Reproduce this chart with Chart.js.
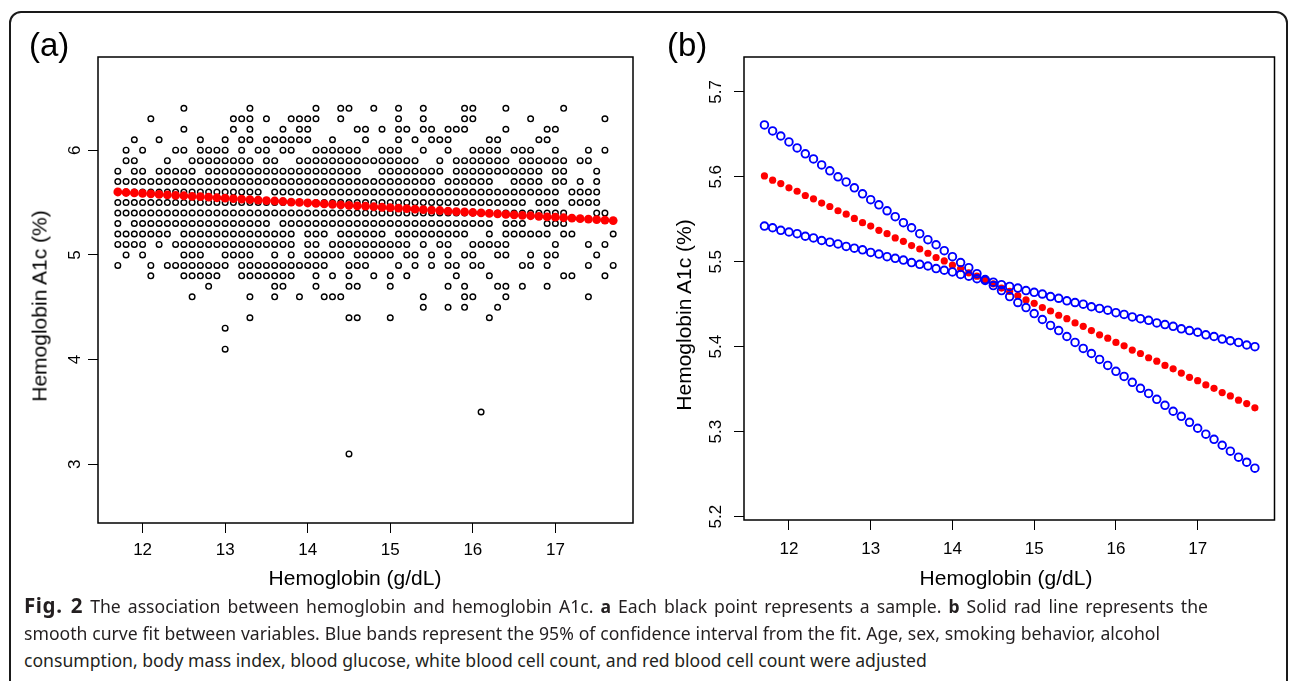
<!DOCTYPE html>
<html>
<head>
<meta charset="utf-8">
<title>Hemoglobin and hemoglobin A1c</title>
<script src="https://cdn.jsdelivr.net/npm/chart.js@4.4.1/dist/chart.umd.min.js"></script>
<style>
    html, body { margin: 0; padding: 0; background: #fff; }
    body { position: relative; width: 1290px; height: 681px; overflow: hidden; font-family: "Liberation Sans", Arial, sans-serif; color: #000; }
    .frame { position: absolute; left: 9px; top: 11px; width: 1279px; height: 720px; border: 2px solid #1a1a1a; border-radius: 12px; box-sizing: border-box; }
    canvas { position: absolute; top: 0; }
    #chartA { left: 0; }
    #chartB { left: 645px; }
    .tag { position: absolute; top: 28px; font-size: 33px; line-height: 1; }
    .axis-title { position: absolute; font-size: 21px; line-height: 1; white-space: nowrap; transform: translate(-50%, -50%); }
    .axis-title.vertical { transform: translate(-50%, -50%) rotate(-90deg); }
    .caption { position: absolute; left: 24px; font-family: "Noto Sans", "Open Sans", sans-serif; font-size: 17.6px; line-height: 1; color: #231f20; white-space: nowrap; }
    .caption.full { text-align: justify; text-align-last: justify; }
    .caption .fig { font-size: 20.5px; letter-spacing: 0.6px; line-height: 0; }
</style>
</head>
<body>
<div class="frame"></div>
<canvas id="chartA" width="645" height="600"></canvas>
<canvas id="chartB" width="645" height="600"></canvas>

<div class="tag" style="left:29px">(a)</div>
<div class="tag" style="left:667px">(b)</div>
<div class="axis-title" style="left:355px; top:577px">Hemoglobin (g/dL)</div>
<div class="axis-title vertical" style="left:39px; top:306px">Hemoglobin A1c (%)</div>
<div class="axis-title" style="left:1006px; top:577px">Hemoglobin (g/dL)</div>
<div class="axis-title vertical" style="left:683px; top:315px">Hemoglobin A1c (%)</div>

<div class="caption full" style="top:598px; width:1184px"><b class="fig">Fig. 2</b> The association between hemoglobin and hemoglobin A1c. <b>a</b> Each black point represents a sample. <b>b</b> Solid rad line represents the</div>
<div class="caption full" style="top:625px; width:1136px">smooth curve fit between variables. Blue bands represent the 95% of confidence interval from the fit. Age, sex, smoking behavior, alcohol</div>
<div class="caption" style="top:652px">consumption, body mass index, blood glucose, white blood cell count, and red blood cell count were adjusted</div>

<script>
// hemoglobin grid (g/dL), one column per 0.1
const hbValues = [11.7, 11.8, 11.9, 12.0, 12.1, 12.2, 12.3, 12.4, 12.5, 12.6, 12.7, 12.8, 12.9,
    13.0, 13.1, 13.2, 13.3, 13.4, 13.5, 13.6, 13.7, 13.8, 13.9, 14.0, 14.1, 14.2, 14.3, 14.4, 14.5,
    14.6, 14.7, 14.8, 14.9, 15.0, 15.1, 15.2, 15.3, 15.4, 15.5, 15.6, 15.7, 15.8, 15.9, 16.0, 16.1,
    16.2, 16.3, 16.4, 16.5, 16.6, 16.7, 16.8, 16.9, 17.0, 17.1, 17.2, 17.3, 17.4, 17.5, 17.6, 17.7];

// HbA1c levels of the sample rows in panel (a)
const a1cLevels = [6.4, 6.3, 6.2, 6.1, 6.0, 5.9, 5.8, 5.7, 5.6, 5.5, 5.4, 5.3, 5.2, 5.1, 5.0, 4.9, 4.8, 4.7, 4.6, 4.5, 4.4];

// which hemoglobin columns hold a sample, one string per level ('o' = sample)
// groups: 11.7-12.9 | 13.0-14.5 | 14.6-16.1 | 16.2-17.7
const sampleRows = [
    '........o.... ...o.......o..oo ..o..o..o....oo. ..o......o......',
    '....o........ .ooo.o..oooo..o. .....o..o....oo. .....o........o.',
    '........o.... .o.o...o.oo..... oo.o.oo.oo.ooo.. ..o....oo.......',
    '..o..o....o.. o.oo.oooooo..o.. .o...o.o.ooo.... oo....oo........',
    '.o.o...oo.ooo o.o.oo.oo..ooooo o..ooo..o..o..oo oo.ooo..o...o.o.',
    '.oo...o..oooo oooo.oo..ooooooo oooooooo..o.oooo ooo.oooooo.oo...',
    'o.oo.ooooo.oo oooooooooooooooo o..oooooooo.oooo ooooooo.oo...o..',
    'ooooooooooooo oooooooooooooooo oooooooooo.ooooo o..oooo.oo.o.o..',
    'ooooooooooooo ooooo.oooooooooo oooooooooooooooo ooooooooo.oooo..',
    'ooooooooooooo oooooooooooooooo oooooooooooooooo ooooo.ooo.oooo..',
    'ooooooooooooo oooooooooooooooo oooooooooooooooo oooooooooo...oo.',
    'o.ooooooooooo oooooo.ooooooooo oooooooooooooooo o.ooo..ooo......',
    'ooooooo.ooooo ooooooooo.ooo.oo oooo.ooooooooo.. o.oooooo.oo....o',
    'oooo.o.oooooo ooooooooo.oo.ooo ooooooo.o.oo..oo ooo.....o...o.o.',
    '.o.o....ooo.. oooo..o.o.ooooo. ooooo.oo.o.o.oo. .oo..o.oo....o..',
    'o...o.ooooooo o.ooooooooooo..o oo...o.o.o.oo.oo ....oo.o....o..o',
    '....o...ooooo ..ooooooo..o.o.o ..o.o.o.....o... o........oo...o.',
    '...........o. ......oo...o...o o...o......o.o.. .oo.o..o........',
    '.........o... ...o..o..o..ooo. ........o....oo. ..o.........o...',
    '............. ................ ........o..o.o.. .o..............',
    '............. ...o...........o o...o........... o...............'
];

// isolated low readings
const outlierHb = [13.0, 13.0, 16.1, 14.5];
const outlierA1c = [4.3, 4.1, 3.5, 3.1];

// smooth curve fit and its 95% band, one value per hbValues entry
const fitA1c = [5.601, 5.596, 5.592, 5.587, 5.583, 5.578, 5.574, 5.569, 5.565, 5.560, 5.556, 5.551, 5.546,
    5.542, 5.537, 5.533, 5.528, 5.524, 5.519, 5.515, 5.510, 5.505, 5.501, 5.496, 5.492, 5.487, 5.483, 5.478, 5.474,
    5.469, 5.465, 5.460, 5.455, 5.451, 5.446, 5.442, 5.437, 5.433, 5.428, 5.424, 5.419, 5.414, 5.410, 5.405, 5.401,
    5.396, 5.392, 5.387, 5.383, 5.378, 5.374, 5.369, 5.364, 5.360, 5.355, 5.351, 5.346, 5.342, 5.337, 5.333, 5.328];
const bandA1c = [5.661, 5.654, 5.648, 5.641, 5.634, 5.627, 5.621, 5.614, 5.607, 5.600, 5.594, 5.587, 5.580,
    5.573, 5.567, 5.560, 5.553, 5.546, 5.540, 5.533, 5.526, 5.520, 5.513, 5.506, 5.499, 5.493, 5.486, 5.479, 5.472,
    5.466, 5.459, 5.452, 5.446, 5.439, 5.432, 5.425, 5.419, 5.412, 5.405, 5.398, 5.392, 5.385, 5.378, 5.371, 5.365,
    5.358, 5.351, 5.345, 5.338, 5.331, 5.324, 5.318, 5.311, 5.304, 5.297, 5.291, 5.284, 5.277, 5.270, 5.264, 5.257];
const band2A1c = [5.542, 5.540, 5.537, 5.535, 5.533, 5.530, 5.528, 5.525, 5.523, 5.521, 5.518, 5.516, 5.514,
    5.511, 5.509, 5.506, 5.504, 5.502, 5.499, 5.497, 5.495, 5.492, 5.490, 5.488, 5.485, 5.483, 5.480, 5.478, 5.476,
    5.473, 5.471, 5.469, 5.466, 5.464, 5.462, 5.459, 5.457, 5.454, 5.452, 5.450, 5.447, 5.445, 5.443, 5.440, 5.438,
    5.435, 5.433, 5.431, 5.428, 5.426, 5.424, 5.421, 5.419, 5.417, 5.414, 5.412, 5.409, 5.407, 5.405, 5.402, 5.400];

// tick labels
const hbTicks = [12, 13, 14, 15, 16, 17];
const a1cTicksA = [3, 4, 5, 6];
const a1cTicksB = [5.2, 5.3, 5.4, 5.5, 5.6, 5.7];

Chart.defaults.font.family = '"Liberation Sans", Arial, sans-serif';
Chart.defaults.color = '#000';

// decode the sample grid into scatter points
const samplePoints = [];
sampleRows.forEach((row, r) => {
    row.replace(/ /g, '').split('').forEach((c, i) => {
        if (c === 'o') samplePoints.push({ x: hbValues[i], y: a1cLevels[r] });
    });
});
outlierHb.forEach((hb, i) => samplePoints.push({ x: hb, y: outlierA1c[i] }));

const toPoints = (ys) => hbValues.map((x, i) => ({ x: x, y: ys[i] }));

// R style closed box around the plotting region
const boxPlugin = {
    id: 'plotBox',
    afterDatasetsDraw(chart) {
        const { ctx, chartArea: a } = chart;
        ctx.save();
        ctx.strokeStyle = '#000';
        ctx.lineWidth = 1.5;
        ctx.strokeRect(a.left, a.top, a.right - a.left, a.bottom - a.top);
        ctx.restore();
    }
};

function panelOptions(cfg) {
    const tickGrid = {
        display: true,
        drawOnChartArea: false,
        drawTicks: true,
        tickLength: 10,
        color: '#000',
        tickColor: '#000',
        lineWidth: 1
    };
    return {
        responsive: false,
        animation: false,
        events: [],
        layout: { padding: { top: 57, right: cfg.padRight, left: 0, bottom: 0 } },
        plugins: {
            legend: { display: false },
            tooltip: { enabled: false }
        },
        scales: {
            x: {
                type: 'linear',
                min: cfg.xMin,
                max: cfg.xMax,
                afterBuildTicks: (s) => { s.ticks = hbTicks.map(v => ({ value: v })); },
                afterFit: (s) => { s.height = cfg.xHeight; },
                grid: tickGrid,
                border: { display: false },
                ticks: {
                    autoSkip: false,
                    maxRotation: 0,
                    padding: cfg.xPad,
                    font: { size: 17 },
                    callback: (v) => String(v)
                }
            },
            y: {
                type: 'linear',
                min: cfg.yMin,
                max: cfg.yMax,
                afterBuildTicks: (s) => { s.ticks = cfg.yTicks.map(v => ({ value: v })); },
                afterFit: (s) => { s.width = cfg.yWidth; },
                grid: tickGrid,
                border: { display: false },
                ticks: {
                    autoSkip: false,
                    minRotation: 90,
                    maxRotation: 90,
                    crossAlign: 'center',
                    padding: cfg.yPad,
                    font: { size: 17 },
                    callback: (v) => String(v)
                }
            }
        }
    };
}

// (a) every sample with the fitted curve on top
const chartA = new Chart(document.getElementById('chartA'), {
    type: 'scatter',
    data: {
        datasets: [{
            label: 'Smooth curve fit',
            data: toPoints(fitA1c),
            pointRadius: 4.4,
            pointBackgroundColor: '#ff0000',
            pointBorderColor: '#ff0000',
            pointBorderWidth: 0
        }, {
            label: 'Samples',
            data: samplePoints,
            pointRadius: 2.8,
            pointBackgroundColor: 'rgba(0,0,0,0)',
            pointBorderColor: '#000',
            pointBorderWidth: 1.4
        }]
    },
    options: panelOptions({
        xMin: 11.46, xMax: 17.94, yMin: 2.44, yMax: 6.89,
        yTicks: a1cTicksA, padRight: 12, xHeight: 77, yWidth: 98, xPad: 7, yPad: 8
    }),
    plugins: [boxPlugin]
});

// (b) fitted curve with its confidence band
const chartB = new Chart(document.getElementById('chartB'), {
    type: 'scatter',
    data: {
        datasets: [{
            label: 'Upper band',
            data: toPoints(bandA1c),
            pointRadius: 3.8,
            pointBackgroundColor: 'rgba(0,0,0,0)',
            pointBorderColor: '#0000ff',
            pointBorderWidth: 1.9
        }, {
            label: 'Lower band',
            data: toPoints(band2A1c),
            pointRadius: 3.8,
            pointBackgroundColor: 'rgba(0,0,0,0)',
            pointBorderColor: '#0000ff',
            pointBorderWidth: 1.9
        }, {
            label: 'Smooth curve fit',
            data: toPoints(fitA1c),
            pointRadius: 3.6,
            pointBackgroundColor: '#ff0000',
            pointBorderColor: '#ff0000',
            pointBorderWidth: 0
        }]
    },
    options: panelOptions({
        xMin: 11.45, xMax: 17.94, yMin: 5.196, yMax: 5.741,
        yTicks: a1cTicksB, padRight: 15.5, xHeight: 80, yWidth: 99, xPad: 9, yPad: 6
    }),
    plugins: [boxPlugin]
});
</script>
</body>
</html>
